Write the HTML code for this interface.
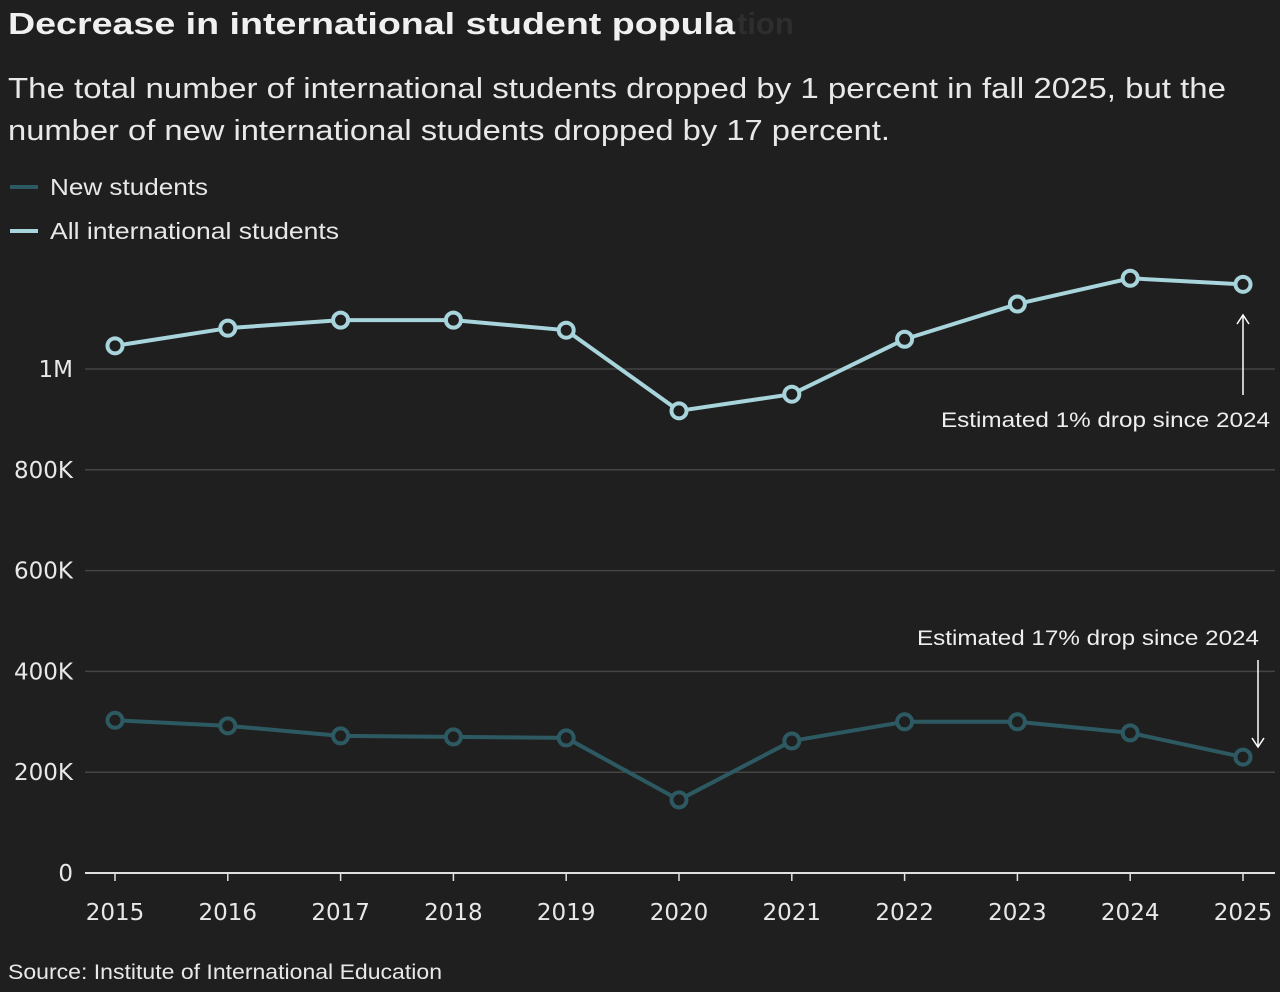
<!DOCTYPE html>
<html><head><meta charset="utf-8"><style>
body{margin:0;background:#1f1f1f;width:1280px;height:992px;overflow:hidden;font-family:"Liberation Sans",sans-serif;color:#eee}
svg{position:absolute;left:0;top:0}
</style></head><body>
<svg width="1280" height="992">
<text x="8" y="34" font-size="31" font-weight="bold" fill="#f0f0f0" textLength="727" lengthAdjust="spacingAndGlyphs">Decrease in international student popula</text>
<text x="737" y="34" font-size="31" font-weight="bold" fill="#2e2e2e">tion</text>
<text x="8" y="98" font-size="29" fill="#e8e8e8" textLength="1218" lengthAdjust="spacingAndGlyphs">The total number of international students dropped by 1 percent in fall 2025, but the</text>
<text x="8" y="140" font-size="29" fill="#e8e8e8" textLength="882" lengthAdjust="spacingAndGlyphs">number of new international students dropped by 17 percent.</text>
<g><line x1="10" y1="187" x2="38" y2="187" stroke="#2d5a62" stroke-width="4"/><text x="50" y="195" font-size="23" fill="#e8e8e8" textLength="158" lengthAdjust="spacingAndGlyphs">New students</text></g>
<g><line x1="10" y1="231" x2="38" y2="231" stroke="#a8d4dc" stroke-width="4"/><text x="50" y="239" font-size="23" fill="#e8e8e8" textLength="289" lengthAdjust="spacingAndGlyphs">All international students</text></g>
<g id="grid"></g><g id="series"></g>
<g><line x1="1243" y1="395" x2="1243" y2="316" stroke="#fff" stroke-width="1.5"/><path d="M1237 324 L1243 315 L1249 324" stroke="#fff" fill="none" stroke-width="1.5"/><text x="941" y="427" font-size="21" fill="#eee" textLength="329" lengthAdjust="spacingAndGlyphs">Estimated 1% drop since 2024</text></g>
<g><line x1="1258" y1="660" x2="1258" y2="746" stroke="#fff" stroke-width="1.5"/><path d="M1252 738 L1258 747 L1264 738" stroke="#fff" fill="none" stroke-width="1.5"/><text x="917" y="645" font-size="21" fill="#eee" textLength="342" lengthAdjust="spacingAndGlyphs">Estimated 17% drop since 2024</text></g>
<text x="8" y="979" font-size="21" fill="#e8e8e8" textLength="434" lengthAdjust="spacingAndGlyphs">Source: Institute of International Education</text>
</svg>
<script>
const years=[2015,2016,2017,2018,2019,2020,2021,2022,2023,2024,2025];
const allStudents=[1046,1081,1097,1097,1077,917,950,1059,1129,1180,1168];
const newStudents=[303,292,272,270,268,145,262,300,300,278,230];
const yTicks=[0,200,400,600,800,1000];
const yTickLabels=["0","200K","400K","600K","800K","1M"];
const NS="http://www.w3.org/2000/svg";
const x=i=>115+i*112.8;
const y=v=>873-v*(504/1000);
function mk(t,a,p){const e=document.createElementNS(NS,t);for(const k in a)e.setAttribute(k,a[k]);p.appendChild(e);return e;}
const g=document.getElementById('grid');
yTicks.forEach((t,i)=>{
 const l=mk('line',{x1:85,x2:1275,y1:y(t),y2:y(t),stroke:t===0?'#e0e0e0':'#444','stroke-width':t===0?2:1.5},g);
 
 
 const tx=mk('text',{x:73,y:y(t)+8,'font-size':23,fill:'#e8e8e8','text-anchor':'end','font-family':'DejaVu Sans, sans-serif'},g);tx.textContent=yTickLabels[i];
 
 
});
years.forEach((yr,i)=>{
 const tk=mk('line',{x1:x(i),x2:x(i),y1:873,y2:881,stroke:'#e0e0e0','stroke-width':1.5},g);
 
 
 const tx=mk('text',{x:x(i),y:920,'font-size':23,fill:'#e8e8e8','text-anchor':'middle','font-family':'DejaVu Sans, sans-serif'},g);tx.textContent=yr;
 
 
});
const s=document.getElementById('series');
[[newStudents,'#2d5a62','new'],[allStudents,'#a8d4dc','all']].forEach(([d,c,n])=>{
 const p=mk('polyline',{points:d.map((v,i)=>x(i)+','+y(v)).join(' '),fill:'none',stroke:c,'stroke-width':4,'stroke-linejoin':'round'},s);
 
 
 d.forEach((v,i)=>{
  const ci=mk('circle',{cx:x(i),cy:y(v),r:7.5,fill:'#1f1f1f',stroke:c,'stroke-width':4},s);
  
  
 });
});
</script>
</body></html>
